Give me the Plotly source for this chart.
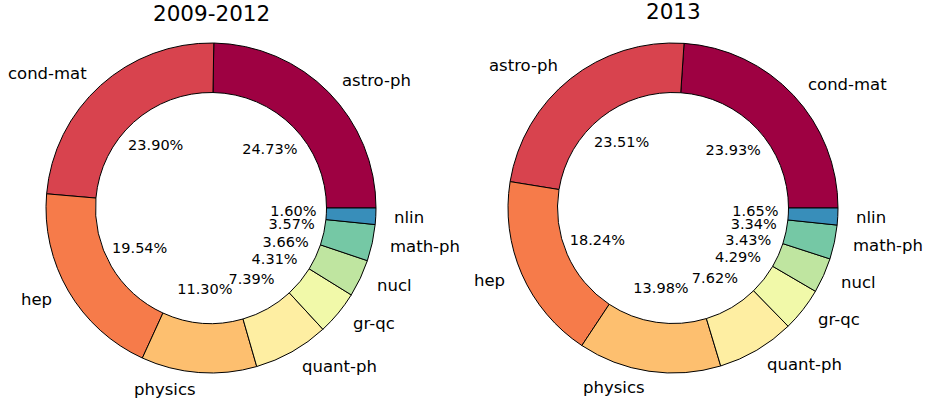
import numpy as np
import plotly.graph_objects as go

# arXiv category shares, two periods
categories_2009 = ['astro-ph', 'cond-mat', 'hep', 'physics', 'quant-ph',
                   'gr-qc', 'nucl', 'math-ph', 'nlin']
share_2009 = [24.73, 23.90, 19.54, 11.30, 7.39, 4.31, 3.66, 3.57, 1.60]

categories_2013 = ['cond-mat', 'astro-ph', 'hep', 'physics', 'quant-ph',
                   'gr-qc', 'nucl', 'math-ph', 'nlin']
share_2013 = [23.93, 23.51, 18.24, 13.98, 7.62, 4.29, 3.43, 3.34, 1.65]

titles = ['2009-2012', '2013']

# matplotlib "Spectral" sampled at i/9
SPECTRAL = ['#9e0142', '#d8434e', '#f67b4a', '#fdbf6f', '#feeea2',
            '#f1f9a9', '#bfe5a0', '#75c8a5', '#388eba']

W, H = 948, 402
R = 165                      # outer radius in px
CENTERS = [(211, 208), (673, 208)]
TITLE_Y = [14, 12]           # px from top
FONT = 'DejaVu Sans'

fig = go.Figure()
annotations = []
layout_axes = {}

panels = [(categories_2009, share_2009), (categories_2013, share_2013)]
for i, (labels, values) in enumerate(panels):
    cx, cy = CENTERS[i]
    dom_x = [(cx - R) / W, (cx + R) / W]
    dom_y = [(H - cy - R) / H, (H - cy + R) / H]

    vals = np.array(values)
    # plotly puts the first ccw slice clockwise of `rotation`,
    # so shift it to make the first slice start at 3 o'clock
    first_deg = 360 * vals[0] / vals.sum()

    fig.add_trace(go.Pie(
        labels=labels,
        values=values,
        hole=0.7,
        sort=False,
        direction='counterclockwise',
        rotation=90 - first_deg,
        marker=dict(colors=SPECTRAL, line=dict(color='black', width=1)),
        textinfo='none',
        hoverinfo='label+percent',
        showlegend=False,
        domain=dict(x=dom_x, y=dom_y),
    ))

    # slice mid angles, counterclockwise from 3 o'clock
    before = np.concatenate([[0], np.cumsum(vals)[:-1]])
    theta = 2 * np.pi * (before + vals / 2) / vals.sum()

    suffix = '' if i == 0 else '2'
    xa, ya = 'x' + suffix, 'y' + suffix

    # overlay axes in units of the pie radius, centred on the pie;
    # each spans half the page so labels outside the ring stay in range
    x0, x1 = i * W / 2, (i + 1) * W / 2
    layout_axes['xaxis' + suffix] = dict(
        domain=[x0 / W, x1 / W], range=[(x0 - cx) / R, (x1 - cx) / R],
        visible=False, fixedrange=True)
    layout_axes['yaxis' + suffix] = dict(
        domain=[0, 1], range=[-(H - cy) / R, cy / R],
        visible=False, fixedrange=True)

    # percentages inside the hole
    fig.add_trace(go.Scatter(
        x=0.5 * np.cos(theta), y=0.5 * np.sin(theta),
        mode='text',
        text=[f'{v:.2f}%' for v in values],
        textposition='middle center',
        textfont=dict(family=FONT, size=14.5, color='black'),
        cliponaxis=False,
        hoverinfo='skip',
        showlegend=False,
        xaxis=xa, yaxis=ya,
    ))

    # category labels outside the ring
    for lab, t in zip(labels, theta):
        lx, ly = 1.1 * np.cos(t), 1.1 * np.sin(t)
        annotations.append(dict(
            x=lx, y=ly, xref=xa, yref=ya,
            text=lab, showarrow=False,
            xanchor='left' if lx > 0 else 'right', yanchor='middle',
            font=dict(family=FONT, size=16.5, color='black'),
        ))

    annotations.append(dict(
        x=cx / W, y=1 - TITLE_Y[i] / H, xref='paper', yref='paper',
        text=titles[i], showarrow=False,
        xanchor='center', yanchor='middle',
        font=dict(family=FONT, size=21.5, color='black'),
    ))

fig.update_layout(
    width=W, height=H,
    margin=dict(l=0, r=0, t=0, b=0),
    paper_bgcolor='white',
    plot_bgcolor='rgba(0,0,0,0)',
    annotations=annotations,
    **layout_axes,
)

# drop the default 8px body margin so the figure sits at the page corner
fig.write_html('out.html', config={'displayModeBar': False},
               post_script="document.body.style.margin='0';")
